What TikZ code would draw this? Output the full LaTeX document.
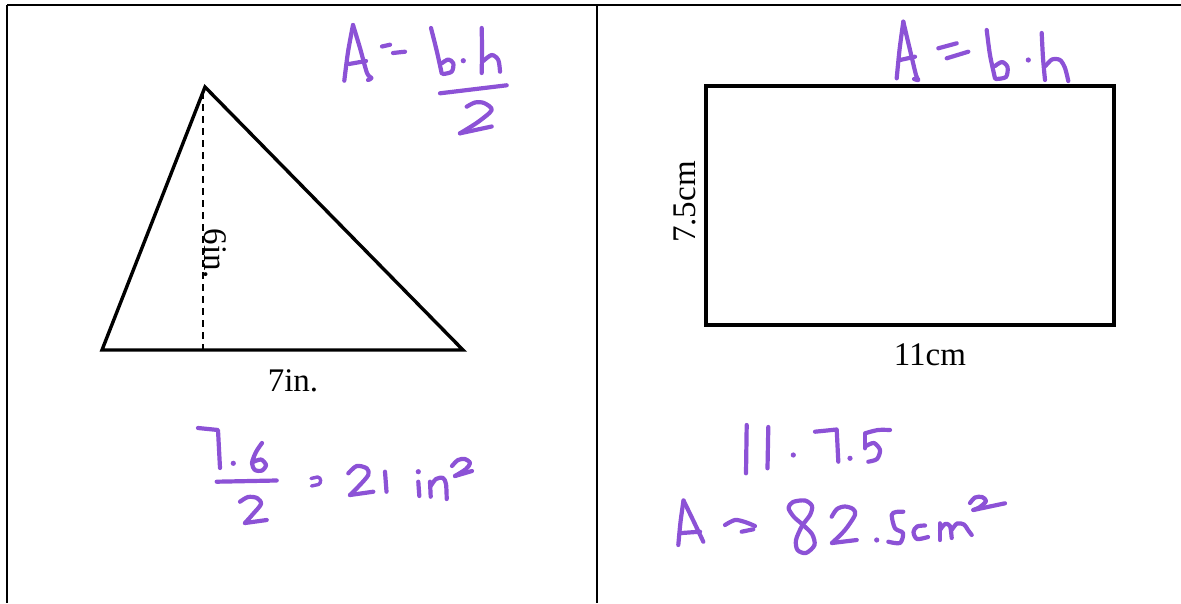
\documentclass[tikz,border=0pt]{standalone}
\usepackage{fontspec}
\setmainfont{Liberation Serif}
\definecolor{hw}{RGB}{140,82,214}
\begin{document}
\begin{tikzpicture}[x=1pt,y=-1pt,
  hand/.style={draw=hw,line width=4.2pt,line cap=round,line join=round},
  hdot/.style={fill=hw,draw=none},
  frame/.style={draw=black,line width=2pt},
  figline/.style={draw=black,line width=3.4pt,line join=miter},
  lbl/.style={font=\fontsize{33}{38}\selectfont,inner sep=0pt}]
\useasboundingbox (0,0) rectangle (1181,603);
% table frame
\coordinate (tl) at (7,5);
\coordinate (tr) at (1181,5);
\coordinate (bl) at (7,603);
\coordinate (mt) at (597,5);
\coordinate (mb) at (597,603);
\draw[frame] (tl) -- (tr);
\draw[frame] (tl) -- (bl);
\draw[frame] (mt) -- (mb);
% triangle
\coordinate (apex) at (205,87);
\coordinate (tlft) at (102,350);
\coordinate (trgt) at (463,350);
\coordinate (foot) at (203,350);
\coordinate (htop) at (203,92);
\draw[figline] (apex) -- (trgt) -- (tlft) -- cycle;
\draw[black,line width=1.3pt,dash pattern=on 7pt off 5pt] (htop) -- (foot);
\node[lbl,rotate=-90] (h6) at (215,254) {6in.};
\node[lbl] (b7) at (293,381) {7in.};
% rectangle
\coordinate (r1) at (706,86);
\coordinate (r2) at (1114,325);
\draw[figline] (r1) rectangle (r2);
\node[lbl,rotate=90] (h75) at (685,202) {7.5cm};
\node[lbl] (b11) at (930,355) {11cm};
% ---- handwriting: left top  A = b.h / 2
\draw[hand] plot[smooth] coordinates {(344.3,80.7) (348,52) (353,25)};
\draw[hand] plot[smooth] coordinates {(353,25) (360,48) (367,73) (371.5,78) (368,80)};
\draw[hand] (349,64) -- (366,61);
\draw[hand] (382,46.5) -- (390,44.7);
\draw[hand] (393,53) -- (405,51.7);
\draw[hand] plot[smooth] coordinates {(431,28) (437,52) (441.7,73.3)};
\draw[hand] plot[smooth] coordinates {(441.7,63.3) (448.3,59.5) (453.3,63.3) (451.7,71.7) (443.3,74)};
\fill[hdot] (463.3,60.7) circle (2.6);
\draw[hand] plot[smooth] coordinates {(481.7,28) (482,50) (481.7,73)};
\draw[hand] plot[smooth] coordinates {(483.3,61) (491.7,55) (498.3,60) (500,71.7)};
\draw[hand] (440,93.3) -- (506.7,85.3);
\draw[hand] plot[smooth] coordinates {(466.7,106.7) (475,102.5) (484,103) (491.7,110) (478,122) (460,133.3)};
\draw[hand] (460,133.3) -- (491.7,126.5);
% ---- right top  A = b.h
\draw[hand] plot[smooth] coordinates {(896.7,78.3) (899.5,50) (903.3,21.7)};
\draw[hand] plot[smooth] coordinates {(903.3,21.7) (910,50) (916,75) (918.3,80) (914,79)};
\draw[hand] (900,60) -- (915,56.7);
\draw[hand] (938.3,48.3) -- (956.7,43.3);
\draw[hand] (946.7,58.3) -- (968.3,51.7);
\draw[hand] plot[smooth] coordinates {(986.7,30) (990,55) (995,78.3)};
\draw[hand] plot[smooth] coordinates {(995,66) (1002,62) (1007.5,67) (1006,77) (996,79)};
\fill[hdot] (1028.3,60) circle (2.6);
\draw[hand] plot[smooth] coordinates {(1041.7,33) (1043,58) (1045,80)};
\draw[hand] plot[smooth] coordinates {(1045.5,66) (1052,59.5) (1060,60) (1065,68) (1068.3,81)};
% ---- left bottom  7.6 / 2 = 21 in^2
\draw[hand] (198,428) -- (218,430) -- (220,468);
\fill[hdot] (233.3,463.3) circle (2.6);
\draw[hand] plot[smooth] coordinates {(262,443) (256,452) (252,463) (255,470) (262,470.5) (266,465) (261,459.5) (253,462)};
\draw[hand] (216.7,481.7) -- (276.7,480.5);
\draw[hand] plot[smooth] coordinates {(240,501.7) (248,497) (257,498) (261,504) (253,514) (245,523)};
\draw[hand] (245,523) -- (266.7,520);
\draw[hand,line width=3.4pt] (311,478.5) -- (317.5,477) .. controls (321.5,477) and (321.5,483.5) .. (318.5,484.5) -- (311.5,486);
\draw[hand] plot[smooth] coordinates {(348.3,473.3) (356.7,466) (366.7,468.3) (368.3,475) (358.3,486.7) (350,495)};
\draw[hand] (350,495) -- (373.3,491.7);
\draw[hand] (385,471.7) -- (386.5,491.7);
\fill[hdot] (418.3,471.7) circle (2.6);
\draw[hand] (418.3,481.7) -- (419.3,496);
\draw[hand] (430,481.7) -- (430.7,496.7);
\draw[hand] plot[smooth] coordinates {(430.7,486) (436,479) (443,478) (446,484) (446.7,499)};
\draw[hand] plot[smooth] coordinates {(452,466) (458,460) (465,459) (470,463) (466,469) (455,476)};
\draw[hand] (455,476) -- (472,471);
% ---- right bottom  11.7.5 / A = 82.5cm^2
\draw[hand] (746.7,425) -- (746,473.3);
\draw[hand] (768.3,427) -- (767.5,468.3);
\fill[hdot] (793.3,455) circle (2.6);
\draw[hand] (815,431.7) -- (836.7,429.5) -- (838.3,461.7);
\fill[hdot] (850,458.3) circle (2.6);
\draw[hand] plot[smooth] coordinates {(890,430) (878,430) (866,433)};
\draw[hand] plot[smooth] coordinates {(865,433.3) (865,448.3)};
\draw[hand] plot[smooth] coordinates {(866,446) (874,443) (880,450) (877,459) (868.3,461.7)};
\draw[hand] plot[smooth] coordinates {(678.3,545) (680.5,522) (683.5,500.5)};
\draw[hand] plot[smooth] coordinates {(683.5,500.5) (693,520) (703.3,541.7)};
\draw[hand] (681.7,533) -- (700,531.7);
\draw[hand] plot[smooth] coordinates {(725,525) (735,520) (745,522) (755,526)};
\draw[hand] (741.7,531.7) -- (753.3,529.3);
\draw[hand] plot[smooth cycle] coordinates {(812,506) (805,500.5) (793,502) (788.5,508) (794,517) (802,524) (812,534) (814.5,545) (806,553) (797.5,550) (796,540) (802,526) (810,515)};
\draw[hand] plot[smooth] coordinates {(831.7,516.7) (837,509) (845,506.5) (853,509) (855,515) (845,530) (832,543)};
\draw[hand] (832,543) -- (856.7,540);
\fill[hdot] (876.7,540) circle (2.6);
\draw[hand] plot[smooth] coordinates {(903.3,511.7) (896,512) (891.7,515) (895,528.3) (903,533) (900,543) (888.3,541.7)};
\draw[hand] plot[smooth] coordinates {(925,525.5) (917,526.5) (913.5,532) (917,539) (928,537)};
\draw[hand] (940,523.3) -- (940,540);
\draw[hand] plot[smooth] coordinates {(940,530) (945,524) (950,526) (951.7,538)};
\draw[hand] plot[smooth] coordinates {(951.7,530) (957,523.5) (964,524.5) (968,530) (971.7,535)};
\draw[hand] plot[smooth] coordinates {(970,503) (975,497.5) (982,497) (986,501) (980,507) (973.3,510)};
\draw[hand] (973.3,510) -- (1005,503.3);
\end{tikzpicture}
\end{document}
